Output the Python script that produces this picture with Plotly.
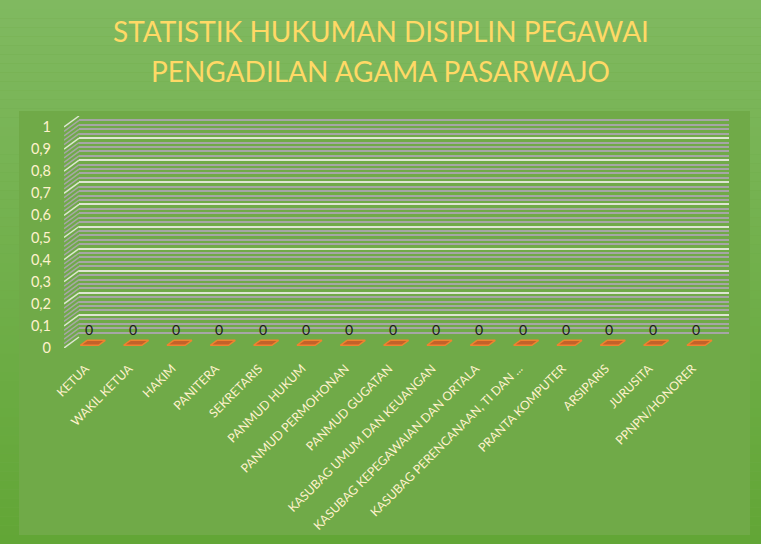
import plotly.graph_objects as go

# data
categories = ["KETUA", "WAKIL KETUA", "HAKIM", "PANITERA", "SEKRETARIS",
              "PANMUD HUKUM", "PANMUD PERMOHONAN", "PANMUD GUGATAN",
              "KASUBAG UMUM DAN KEUANGAN", "KASUBAG KEPEGAWAIAN DAN ORTALA",
              "KASUBAG PERENCANAAN, TI DAN ...", "PRANTA KOMPUTER", "ARSIPARIS",
              "JURUSITA", "PPNPN/HONORER"]
values = [0, 0, 0, 0, 0, 0, 0, 0, 0, 0, 0, 0, 0, 0, 0]
title_lines = ["STATISTIK HUKUMAN DISIPLIN PEGAWAI", "PENGADILAN AGAMA PASARWAJO"]

W, H = 761, 544
# back wall in pixels, and the depth offset of the 3d floor
wall_l, wall_r, wall_b, wall_t = 79, 729, 337, 116
dx, dy = -15, 11

n = len(categories)
unit_x = (wall_r - wall_l) / n
unit_y = wall_b - wall_t
kx = -dx / unit_x      # depth shift in category units
ky = dy / unit_y       # depth shift in value units

def px(x):
    return x / W

def py(y):
    return 1 - y / H

font = "Lato"
label_col = "#fff2cc"

fig = go.Figure()

# invisible points so the wall and label axes get drawn
fig.add_trace(go.Scatter(x=list(range(n)), y=values, xaxis="x", yaxis="y",
                         mode="markers", marker=dict(opacity=0),
                         hoverinfo="skip", showlegend=False))
fig.add_trace(go.Scatter(x=list(range(n)), y=values, xaxis="x2", yaxis="y2",
                         mode="markers", marker=dict(opacity=0),
                         hoverinfo="skip", showlegend=False))

# side wall diagonals, one for each grid step
major = [i / 10 for i in range(11)]
minor = [i / 50 for i in range(51) if i % 5 != 0]
for vals, col in [(minor, "#a6a6a6"), (major, "#dde5d2")]:
    xs, ys = [], []
    for v in vals:
        xs += [-0.5 - kx, -0.5, None]
        ys += [v - ky, v, None]
    fig.add_trace(go.Scatter(x=xs, y=ys, xaxis="x3", yaxis="y3", mode="lines",
                             line=dict(color=col, width=1.5),
                             hoverinfo="skip", showlegend=False))

# bars (top faces; zero height here)
d0, d1, bw = 0.3, 0.75, 0.42
bx, by = [], []
for i, v in enumerate(values):
    bx += [i - bw / 2 - kx * d0, i + bw / 2 - kx * d0,
           i + bw / 2 - kx * d1, i - bw / 2 - kx * d1, i - bw / 2 - kx * d0, None]
    by += [v - ky * d0, v - ky * d0, v - ky * d1, v - ky * d1, v - ky * d0, None]
fig.add_trace(go.Scatter(x=bx, y=by, xaxis="x3", yaxis="y3", mode="lines",
                         fill="toself", fillcolor="#c4612a",
                         line=dict(color="#f0822f", width=1.5),
                         hoverinfo="skip", showlegend=False))

annotations = []
for i, v in enumerate(values):
    annotations.append(dict(x=i - kx * d1, y=v - ky * d1, xref="x3", yref="y3",
                            text=str(v), showarrow=False, yshift=16,
                            font=dict(family=font, size=14, color="#1a1a1a")))

for j, t in enumerate(title_lines):
    annotations.append(dict(x=0.5, y=py(31 + 40 * j), xref="paper", yref="paper",
                            text=t, showarrow=False, xanchor="center", yanchor="middle",
                            font=dict(family=font, size=28, color="#ffd966")))

# background gradient and inner panel
shapes = []
top_c, bot_c = (128, 185, 96), (98, 166, 54)
steps = 60
for s in range(steps):
    f = s / (steps - 1)
    c = tuple(round(top_c[k] + (bot_c[k] - top_c[k]) * f) for k in range(3))
    shapes.append(dict(type="rect", xref="paper", yref="paper", layer="below",
                       x0=0, x1=1, y0=1 - s / steps, y1=1 - (s + 1) / steps,
                       line=dict(width=0), fillcolor="rgb(%d,%d,%d)" % c))
shapes.append(dict(type="rect", xref="paper", yref="paper", layer="below",
                   x0=px(19), x1=px(750), y0=py(535), y1=py(111),
                   line=dict(width=0), fillcolor="#70aa48"))

hidden = dict(showgrid=False, zeroline=False, showticklabels=False, ticks="",
              showline=False, fixedrange=True, automargin=False)

fig.update_layout(
    width=W, height=H, autosize=False,
    margin=dict(l=0, r=0, t=0, b=0, pad=0, autoexpand=False),
    paper_bgcolor="#70aa48", plot_bgcolor="rgba(0,0,0,0)",
    separators=",.",
    showlegend=False,
    shapes=shapes,
    annotations=annotations,
    xaxis=dict(domain=[px(wall_l), px(wall_r)], range=[-0.5, n - 0.5], anchor="y", **hidden),
    yaxis=dict(domain=[py(wall_b), py(wall_t)], range=[0, 1], anchor="x",
               showgrid=True, gridcolor="#dde5d2", gridwidth=1.5, dtick=0.1, tick0=0,
               minor=dict(dtick=0.02, tick0=0, showgrid=True, gridcolor="#a6a6a6", gridwidth=1.5),
               zeroline=False, showticklabels=False, ticks="", showline=False, automargin=False),
    xaxis2=dict(domain=[px(wall_l + dx), px(wall_r + dx)], range=[-0.5, n - 0.5], anchor="y2",
                tickmode="array", tickvals=list(range(n)), ticktext=categories,
                tickangle=-45, showgrid=False, zeroline=False, showline=False, ticks="",
                ticklabelstandoff=10, automargin=False,
                tickfont=dict(family=font, size=12.3, color=label_col)),
    yaxis2=dict(domain=[py(wall_b + dy), py(wall_t + dy)], range=[0, 1], anchor="x2",
                dtick=0.1, tick0=0, showgrid=False, zeroline=False, showline=False, ticks="",
                ticklabelstandoff=12, automargin=False,
                tickfont=dict(family=font, size=14.5, color=label_col)),
    xaxis3=dict(domain=[px(wall_l + dx), px(wall_r)], range=[-0.5 - kx, n - 0.5], anchor="y3", **hidden),
    yaxis3=dict(domain=[py(wall_b + dy), py(wall_t)], range=[-ky, 1], anchor="x3", **hidden),
)

pin = ("document.body.style.margin='0';document.body.style.overflow='hidden';"
       "var d=document.getElementById('{plot_id}');"
       "d.style.position='fixed';d.style.left='0px';d.style.top='0px';")
fig.write_html("out.html", config={"displayModeBar": False}, post_script=pin)
